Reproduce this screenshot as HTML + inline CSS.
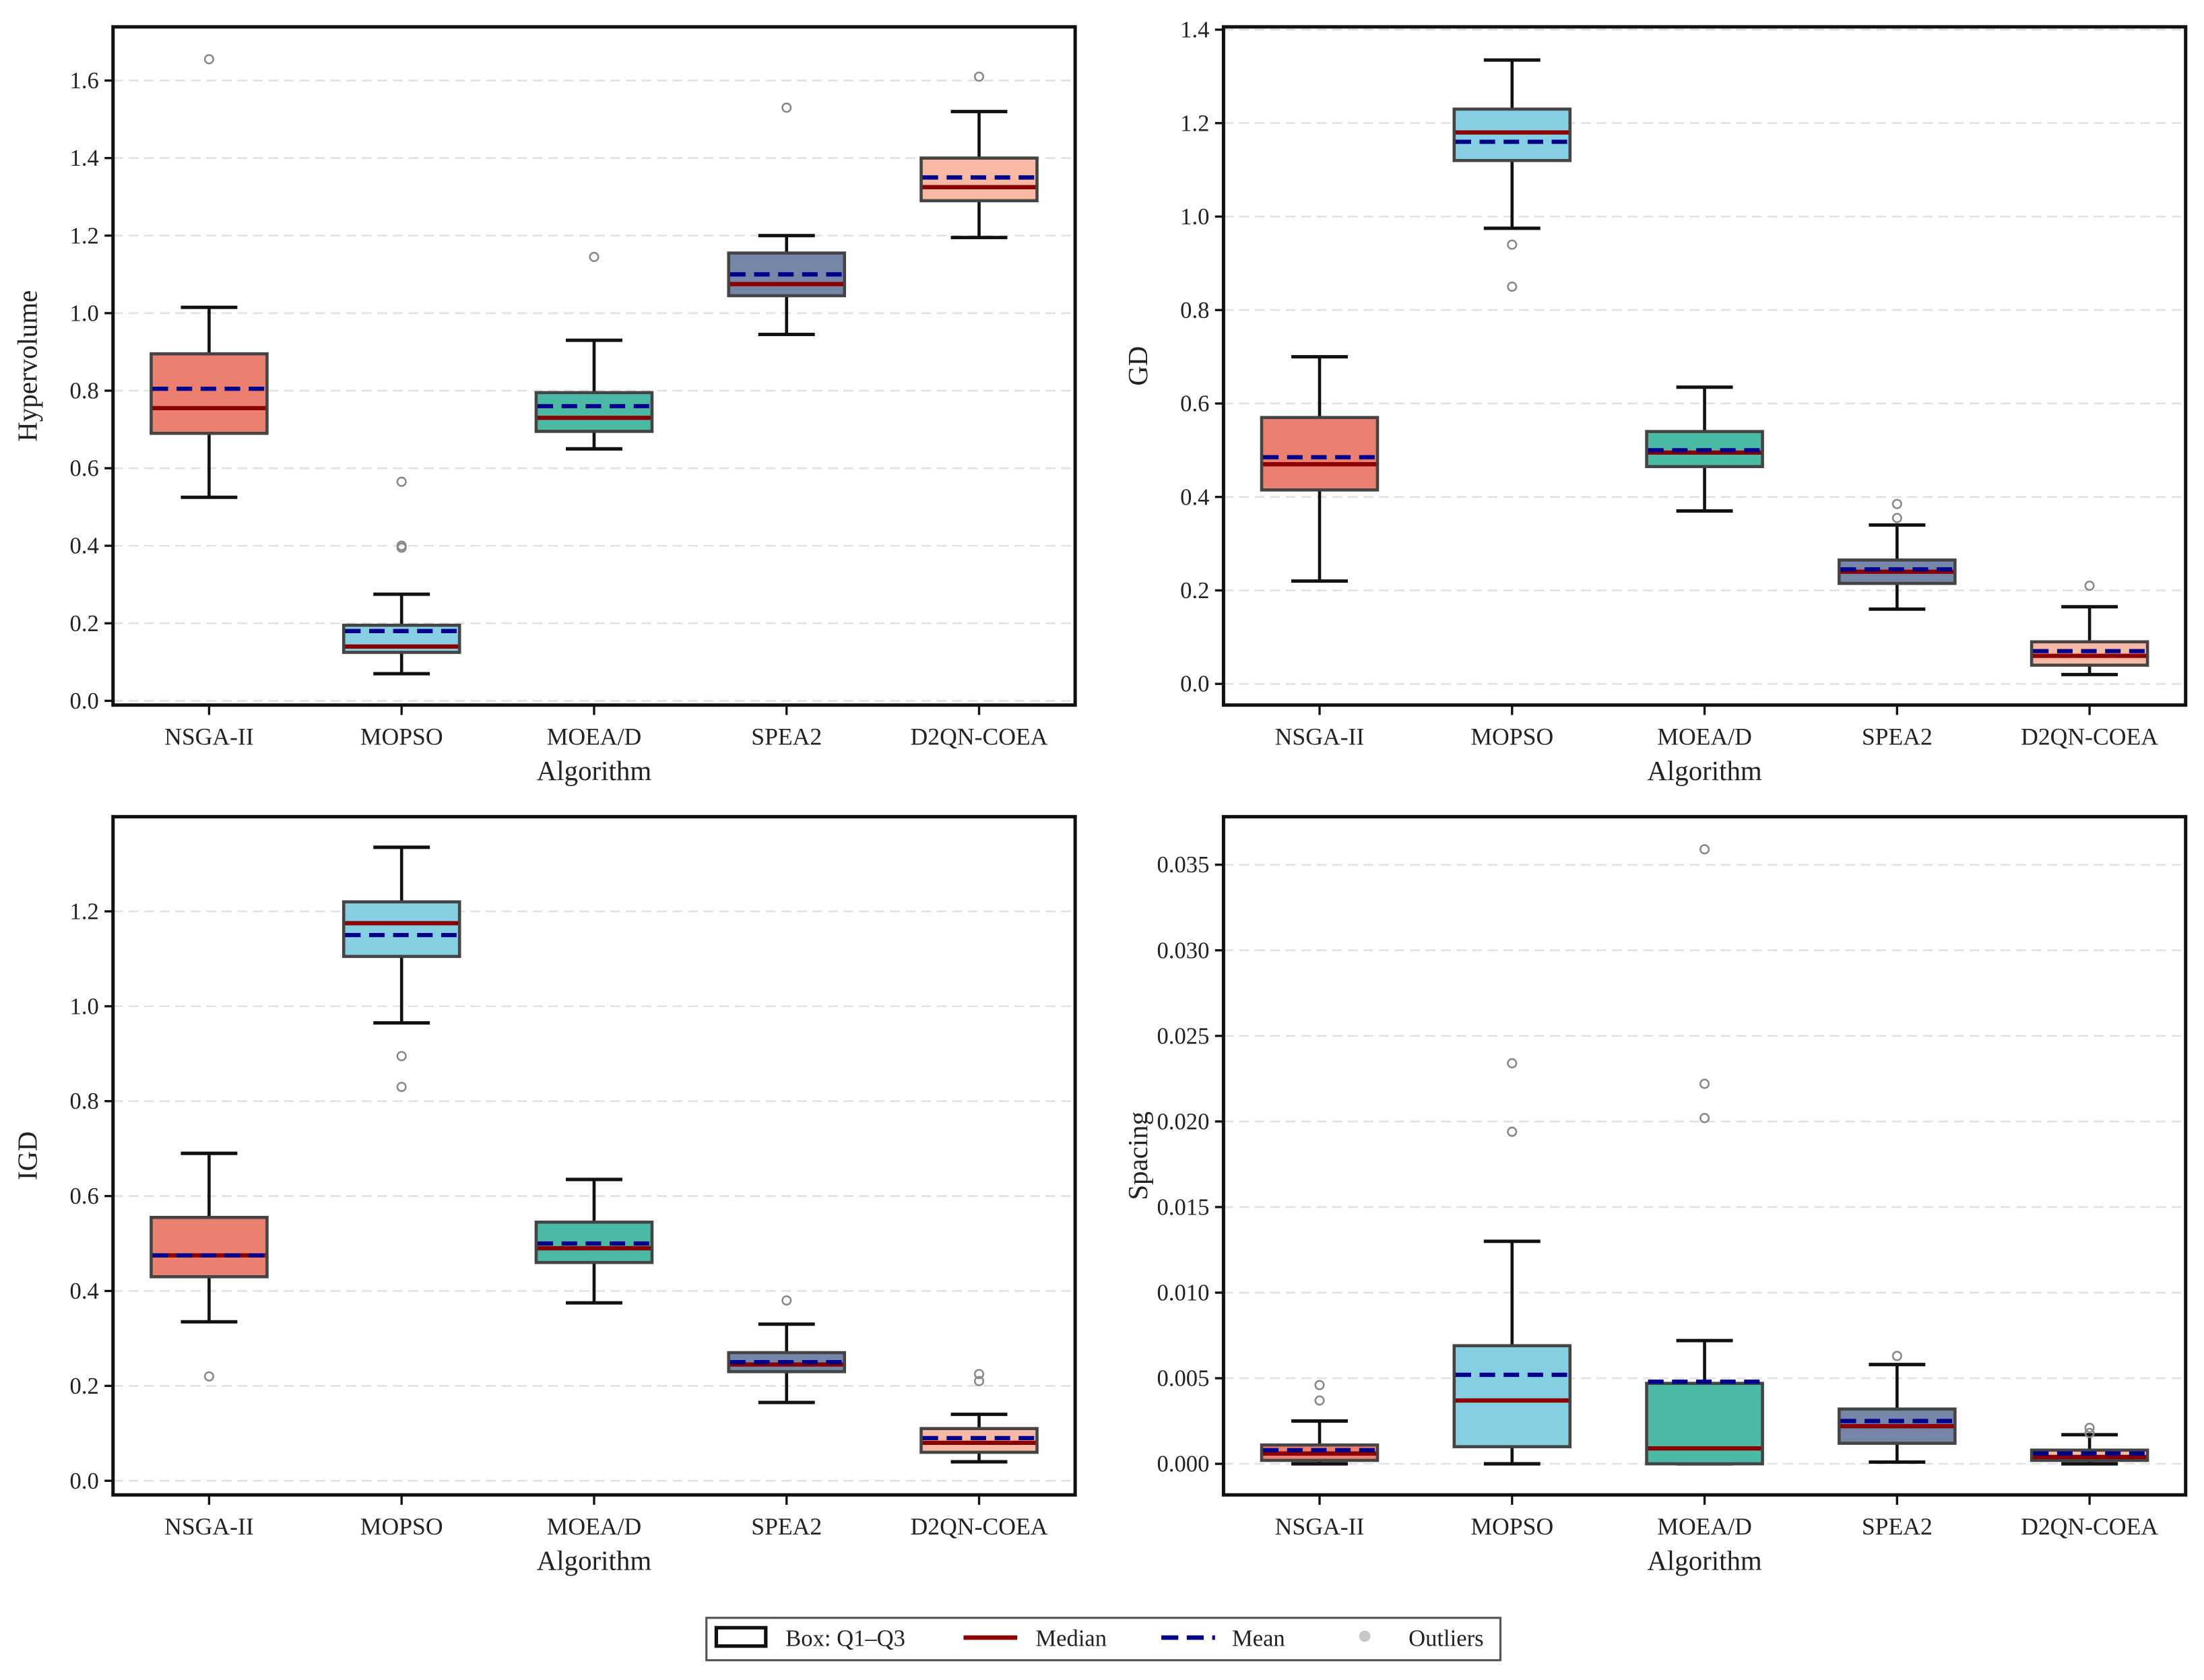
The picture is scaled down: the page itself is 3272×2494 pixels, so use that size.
<!DOCTYPE html>
<html><head><meta charset="utf-8"><style>
html,body{margin:0;padding:0;background:#fff}
svg{display:block}
text{font-family:"Liberation Serif",serif;fill:#222}
</style></head><body>
<svg id="fig" xmlns="http://www.w3.org/2000/svg" width="3272" height="2494" viewBox="0 0 1560 1189" preserveAspectRatio="none">
<g id="legend">
<rect x="500" y="1145" width="562" height="30" fill="#fff" stroke="#555" stroke-width="1.5"/>
<rect x="507" y="1152" width="35" height="13" fill="none" stroke="#111" stroke-width="2.5"/>
<text x="556" y="1165" font-size="16.5">Box: Q1–Q3</text>
<line x1="682" y1="1159" x2="720" y2="1159" stroke="#8b0000" stroke-width="3.2"/>
<text x="733" y="1165" font-size="16.5">Median</text>
<line x1="822" y1="1159" x2="860" y2="1159" stroke="#00008b" stroke-width="3.2" stroke-dasharray="12,6"/>
<text x="872" y="1165" font-size="16.5">Mean</text>
<circle cx="966" cy="1158" r="4" fill="#c8c8c8"/>
<text x="997" y="1165" font-size="16.5">Outliers</text>
</g>
</svg>
<script>
const categories=["NSGA-II","MOPSO","MOEA/D","SPEA2","D2QN-COEA"];
const colors=["#ec8070","#86cfe3","#4bbaa5","#7686a8","#f7b9a4"];
// [lowWhisker,q1,median,mean,q3,highWhisker]
const hvStats=[[0.525,0.69,0.755,0.805,0.895,1.015],[0.07,0.125,0.14,0.18,0.195,0.275],[0.65,0.695,0.73,0.76,0.795,0.93],[0.945,1.045,1.075,1.10,1.155,1.20],[1.195,1.29,1.325,1.35,1.40,1.52]];
const hvOut=[[1.655],[0.565,0.395,0.40],[1.145],[1.53],[1.61]];
const gdStats=[[0.22,0.415,0.47,0.485,0.57,0.70],[0.975,1.12,1.18,1.16,1.23,1.335],[0.37,0.465,0.495,0.50,0.54,0.635],[0.16,0.215,0.24,0.245,0.265,0.34],[0.02,0.04,0.06,0.07,0.09,0.165]];
const gdOut=[[],[0.94,0.85],[],[0.355,0.385],[0.21]];
const igdStats=[[0.335,0.43,0.475,0.475,0.555,0.69],[0.965,1.105,1.175,1.15,1.22,1.335],[0.375,0.46,0.49,0.50,0.545,0.635],[0.165,0.23,0.245,0.25,0.27,0.33],[0.04,0.06,0.08,0.09,0.11,0.14]];
const igdOut=[[0.22],[0.895,0.83],[],[0.38],[0.21,0.225]];
const spStats=[[0,0.0002,0.0006,0.0008,0.0011,0.0025],[0,0.001,0.0037,0.0052,0.0069,0.013],[0,0,0.0009,0.0048,0.0047,0.0072],[0.0001,0.0012,0.0022,0.0025,0.0032,0.0058],[0,0.0002,0.0004,0.0006,0.0008,0.0017]];
const spOut=[[0.0037,0.0046],[0.0194,0.0234],[0.0202,0.0222,0.0359],[0.0063],[0.0021,0.0018]];
const hvTicks=[0,0.2,0.4,0.6,0.8,1.0,1.2,1.4,1.6];
const gdTicks=[0,0.2,0.4,0.6,0.8,1.0,1.2,1.4];
const igdTicks=[0,0.2,0.4,0.6,0.8,1.0,1.2];
const spTicks=[0,0.005,0.01,0.015,0.02,0.025,0.03,0.035];

const NS="http://www.w3.org/2000/svg";
const svg=document.getElementById('fig');
function mk(tag,attrs,parent){const e=document.createElementNS(NS,tag);for(const k in attrs)e.setAttribute(k,attrs[k]);parent.appendChild(e);return e;}

function panel(name,fx,fy,yLabel,stats,outs,ticks,dec,v0,y0,v1,y1,showX){
  const g=mk('g',{},svg);
  
  
  const L=fx,R=fx+681,T=fy,B=fy+480;
  const ys=v=>y0+(v-v0)*(y1-y0)/(v1-v0);
  const xs=i=>L+68+i*136.25;
  ticks.forEach(t=>{
    const y=ys(t);
    const gl=mk('line',{x1:L,x2:R,y1:y,y2:y,stroke:'#e2e2e2','stroke-width':1.3,'stroke-dasharray':'7,4'},g);
    
    
    mk('line',{x1:L-6,x2:L,y1:y,y2:y,stroke:'#111','stroke-width':1.6},g);
    const tx=mk('text',{x:L-10,y:y+5.5,'font-size':16.5,'text-anchor':'end'},g);
    tx.textContent=t.toFixed(dec);
    
    
  });
  stats.forEach((s,i)=>{
    const cx=xs(i),hw=41,cw=20;
    const [lw,q1,md,mn,q3,uw]=s;
    const bg=mk('g',{},g);
    
    
    mk('line',{x1:cx,x2:cx,y1:ys(uw),y2:ys(q3),stroke:'#111','stroke-width':2.2},bg);
    mk('line',{x1:cx,x2:cx,y1:ys(q1),y2:ys(lw),stroke:'#111','stroke-width':2.2},bg);
    mk('line',{x1:cx-cw,x2:cx+cw,y1:ys(uw),y2:ys(uw),stroke:'#111','stroke-width':2.4},bg);
    mk('line',{x1:cx-cw,x2:cx+cw,y1:ys(lw),y2:ys(lw),stroke:'#111','stroke-width':2.4},bg);
    mk('rect',{x:cx-hw,y:ys(q3),width:2*hw,height:Math.max(ys(q1)-ys(q3),0.5),fill:colors[i],stroke:'#444','stroke-width':2.2},bg);
    mk('line',{x1:cx-hw+1,x2:cx+hw-1,y1:ys(md),y2:ys(md),stroke:'#8b0000','stroke-width':3},bg);
    mk('line',{x1:cx-hw+1,x2:cx+hw-1,y1:ys(mn),y2:ys(mn),stroke:'#00008b','stroke-width':3,'stroke-dasharray':'11,6'},bg);
    outs[i].forEach(o=>{
      const c=mk('circle',{cx:cx,cy:ys(o),r:3,fill:'none',stroke:'#888','stroke-width':1.2},bg);
      
      
    });
    mk('line',{x1:cx,x2:cx,y1:B,y2:B+7,stroke:'#111','stroke-width':1.6},g);
    const xl=mk('text',{x:cx,y:B+28,'font-size':17,'text-anchor':'middle'},g);
    xl.textContent=categories[i];
    
    
  });
  const fr=mk('rect',{x:L,y:T,width:R-L,height:B-T,fill:'none',stroke:'#111','stroke-width':2.4},g);
  
  
  const yl=mk('text',{x:0,y:0,'font-size':19.5,'text-anchor':'middle',transform:`translate(${L-54},${(T+B)/2}) rotate(-90)`},g);
  yl.textContent=yLabel;
  
  
  if(showX){
    const xt=mk('text',{x:(L+R)/2,y:B+53,'font-size':19.5,'text-anchor':'middle'},g);
    xt.textContent='Algorithm';
    
    
  }
}
panel('hypervolume',80,19,'Hypervolume',hvStats,hvOut,hvTicks,1,0,496,1.6,57,true);
panel('gd',866,19,'GD',gdStats,gdOut,gdTicks,1,0,484,1.4,21,true);
panel('igd',80,578,'IGD',igdStats,igdOut,igdTicks,1,0,1048,1.2,645,true);
panel('spacing',866,578,'Spacing',spStats,spOut,spTicks,3,0,1036,0.035,612,true);
</script>
</body></html>
